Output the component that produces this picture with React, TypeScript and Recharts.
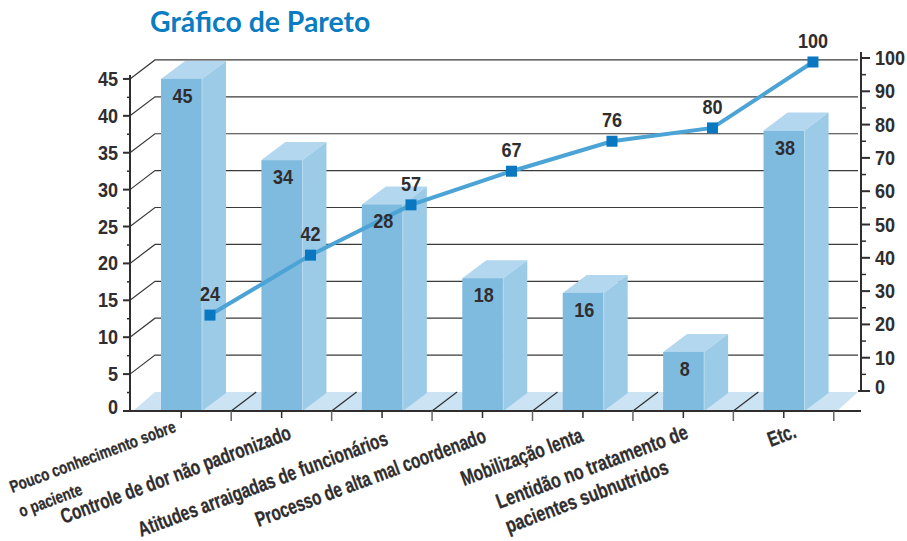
import { Bar, CartesianGrid, ComposedChart, LabelList, Line, ReferenceArea, XAxis, YAxis } from "recharts";

const categories = [
  "Pouco conhecimento sobre\no paciente",
  "Controle de dor não padronizado",
  "Atitudes arraigadas de funcionários",
  "Processo de alta mal coordenado",
  "Mobilização lenta",
  "Lentidão no tratamento de\npacientes subnutridos",
  "Etc.",
];
const counts = [45, 34, 28, 18, 16, 8, 38];
// where the line sits on the right axis
const cumulative = [22.8, 40.8, 55.9, 66, 75, 79, 98.8];
// what the line is labelled with
const cumulativeLabels = ["24", "42", "57", "67", "76", "80", "100"];
const leftTicks = [0, 2.5, 5, 7.5, 10, 12.5, 15, 17.5, 20, 22.5, 25, 27.5, 30, 32.5, 35, 37.5, 40, 42.5, 45];
const rightTicks = [0, 5, 10, 15, 20, 25, 30, 35, 40, 45, 50, 55, 60, 65, 70, 75, 80, 85, 90, 95, 100];
const gridValues = [5, 10, 15, 20, 25, 30, 35, 40, 45];

const data = categories.map((category, i) => ({
  category,
  position: i,
  count: counts[i],
  cumulative: cumulative[i],
  cumulativeLabel: cumulativeLabels[i],
}));

const FONT = '"Liberation Sans", sans-serif';
const INK = "#2f2d2e";
const PLOT_LEFT = 131;
const PLOT_RIGHT = 861;
const DEPTH_X = 24;
const DEPTH_Y = 19;
const NUMBER_SQUEEZE = 0.88;

// start of each rotated label, relative to its band centre
const labelLayout = [
  { dx: -169, dy: 82, size: 17, squeeze: 0.79 },
  { dx: -218, dy: 113, size: 21, squeeze: 0.74 },
  { dx: -241, dy: 126, size: 21, squeeze: 0.74 },
  { dx: -224, dy: 116, size: 21, squeeze: 0.73 },
  { dx: -119, dy: 75, size: 21, squeeze: 0.74 },
  { dx: -184, dy: 98, size: 21, squeeze: 0.77 },
  { dx: -13, dy: 36, size: 21, squeeze: 0.74 },
];

function Num({ x, y, anchor, children }: any) {
  return (
    <text
      transform={`translate(${x} ${y}) scale(${NUMBER_SQUEEZE} 1)`}
      textAnchor={anchor}
      fontFamily={FONT}
      fontWeight={700}
      fontSize={20.5}
      fill={INK}
    >
      {children}
    </text>
  );
}

function LeftTick({ y, payload }: any) {
  const v = payload.value;
  const major = v % 5 === 0;
  return (
    <g>
      {v === 0 && <line x1={PLOT_LEFT - 1} x2={PLOT_LEFT - 1} y1={y} y2={y - 336} stroke={INK} strokeWidth={2} />}
      <line x1={PLOT_LEFT - (major ? 8 : 4)} x2={PLOT_LEFT} y1={y} y2={y} stroke={INK} strokeWidth={major ? 2 : 1.5} />
      {major && (
        <Num x={118} y={y + (v === 0 ? 3 : 7)} anchor="end">
          {v}
        </Num>
      )}
    </g>
  );
}

function RightTick({ y, payload }: any) {
  const v = payload.value;
  const major = v % 10 === 0;
  return (
    <g>
      {v === 0 && <line x1={PLOT_RIGHT} x2={PLOT_RIGHT} y1={y} y2={y - 339} stroke={INK} strokeWidth={2} />}
      <line
        x1={v === 0 ? PLOT_RIGHT - 3 : PLOT_RIGHT}
        x2={PLOT_RIGHT + (major ? 9 : 5)}
        y1={y}
        y2={y}
        stroke={INK}
        strokeWidth={major ? 2 : 1.5}
      />
      {major && (
        <Num x={875} y={y + (v === 0 ? 3 : 7)} anchor="start">
          {v}
        </Num>
      )}
    </g>
  );
}

function CategoryTick({ x, y, payload, index }: any) {
  const layout = labelLayout[index];
  const boundary = x + 50;
  return (
    <g>
      <line x1={x} x2={x} y1={y} y2={y + 7} stroke={INK} strokeWidth={1.5} />
      <line x1={boundary} x2={boundary} y1={y} y2={y + 10} stroke="#666" strokeWidth={1.5} />
      {index < categories.length - 1 && (
        <line x1={boundary} x2={boundary + 25} y1={y} y2={y - DEPTH_Y} stroke={INK} strokeWidth={1.2} />
      )}
      <text
        transform={`translate(${x + layout.dx} ${y + layout.dy}) rotate(-20.5) scale(${layout.squeeze} 1)`}
        fontFamily={FONT}
        fontWeight={700}
        fontSize={layout.size}
        fill={INK}
        stroke={INK}
        strokeWidth={0.3}
      >
        {String(payload.value)
          .split("\n")
          .map((part, i) => (
            <tspan key={part} x={0} y={i * 26}>
              {part}
            </tspan>
          ))}
      </text>
    </g>
  );
}

// one back wall line, plus the diagonal that joins it to the left axis
function WallLine({ y1 }: any) {
  return (
    <polyline
      points={`${PLOT_LEFT - 1},${y1} ${PLOT_LEFT + DEPTH_X},${y1 - DEPTH_Y} ${PLOT_RIGHT - 3},${y1 - DEPTH_Y}`}
      fill="none"
      stroke="#3a3a3a"
      strokeWidth={1.2}
    />
  );
}

function Floor({ x, y, width, height }: any) {
  const points = [
    [x + 2, y + height],
    [x + DEPTH_X, y],
    [x + width - 3, y],
    [x + width - 24, y + height],
  ];
  return <polygon points={points.map((p) => p.join(",")).join(" ")} fill="#cbe3f3" />;
}

function Box3D({ x, y, width, height }: any) {
  const right = x + width;
  const bottom = y + height;
  return (
    <g>
      <polygon points={`${x},${y} ${x + DEPTH_X},${y - 18} ${right + DEPTH_X},${y - 18} ${right},${y}`} fill="#b3d7ee" />
      <polygon
        points={`${right},${y} ${right + DEPTH_X},${y - 18} ${right + DEPTH_X},${bottom - 18} ${right},${bottom}`}
        fill="#9ccbe7"
      />
      <rect x={x} y={y} width={width} height={height} fill="#7fbadf" />
      <line x1={right} x2={right} y1={y} y2={bottom} stroke="#b9dbf0" strokeWidth={1} />
    </g>
  );
}

function SquareDot({ cx, cy }: any) {
  return <rect x={cx - 5.5} y={cy - 5.5} width={11} height={11} fill="#0a78c0" />;
}

function BarValue({ x, y, width, value }: any) {
  return (
    <Num x={x + width / 2 + 1} y={y + 24} anchor="middle">
      {value}
    </Num>
  );
}

function LineValue({ x, y, value }: any) {
  return (
    <Num x={x} y={y - 14} anchor="middle">
      {value}
    </Num>
  );
}

export default function App() {
  return (
    <div style={{ position: "absolute", left: 0, top: 0, width: 907, height: 541 }}>
      <div
        style={{
          position: "absolute",
          left: 150,
          top: 4,
          fontFamily: "Lato, sans-serif",
          fontWeight: 700,
          fontSize: 28.4,
          color: "#0a7cc1",
          whiteSpace: "nowrap",
        }}
      >
        Gráfico de Pareto
      </div>
      <ComposedChart width={907} height={541} data={data} margin={{ top: 52, right: 0, bottom: 0, left: 0 }}>
        <XAxis
          xAxisId="bars"
          dataKey="category"
          height={130}
          interval={0}
          padding={{ left: 0, right: 27 }}
          tickLine={false}
          tickSize={0}
          tickMargin={0}
          axisLine={{ stroke: INK, strokeWidth: 2 }}
          tick={<CategoryTick />}
        />
        <XAxis xAxisId="line" type="number" dataKey="position" domain={[-0.786, 6.478]} allowDataOverflow hide />
        <YAxis
          yAxisId="left"
          width={131}
          domain={[0, 48.65]}
          allowDataOverflow
          ticks={leftTicks}
          interval={0}
          axisLine={false}
          tickLine={false}
          tickSize={0}
          tickMargin={0}
          tick={<LeftTick />}
        />
        <YAxis
          yAxisId="right"
          orientation="right"
          width={46}
          domain={[-6, 101.8]}
          allowDataOverflow
          ticks={rightTicks}
          interval={0}
          axisLine={false}
          tickLine={false}
          tickSize={0}
          tickMargin={0}
          tick={<RightTick />}
        />
        <CartesianGrid
          xAxisId="bars"
          yAxisId="left"
          vertical={false}
          horizontalValues={gridValues}
          horizontal={(props: any) => <WallLine key={props.y1} {...props} />}
        />
        <ReferenceArea
          xAxisId="line"
          yAxisId="left"
          x1={-0.786}
          x2={6.478}
          y1={0}
          y2={DEPTH_Y / 7.38}
          shape={<Floor />}
        />
        <Bar xAxisId="bars" yAxisId="left" dataKey="count" barSize={41} shape={<Box3D />} isAnimationActive={false}>
          <LabelList dataKey="count" content={<BarValue />} />
        </Bar>
        <Line
          xAxisId="line"
          yAxisId="right"
          dataKey="cumulative"
          type="linear"
          stroke="#4ba3d6"
          strokeWidth={4}
          dot={<SquareDot />}
          isAnimationActive={false}
        >
          <LabelList dataKey="cumulativeLabel" content={<LineValue />} />
        </Line>
      </ComposedChart>
    </div>
  );
}
